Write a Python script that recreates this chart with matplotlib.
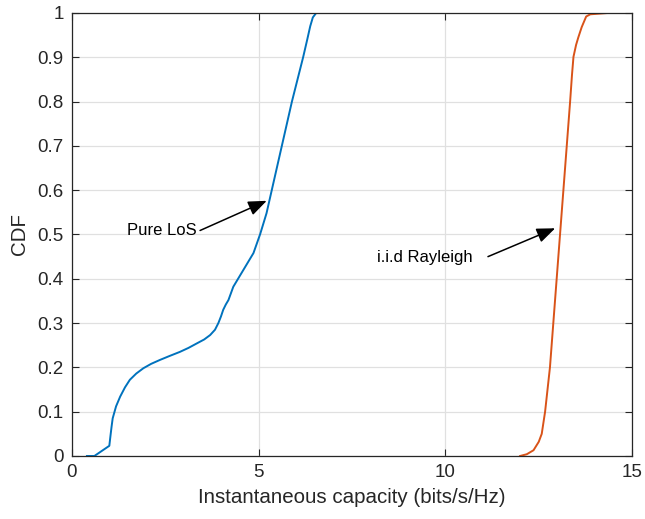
import numpy as np
import matplotlib.pyplot as plt

plt.rcParams['font.family'] = ['Liberation Sans', 'DejaVu Sans']

# empirical CDF of the capacity, pure line-of-sight channel
los_capacity = [0.40, 0.60, 1.00, 1.03, 1.06, 1.09, 1.18, 1.29, 1.42, 1.55, 1.72, 1.91,
                2.12, 2.36, 2.62, 2.89, 3.12, 3.34, 3.54, 3.70, 3.83, 3.92, 3.99,
                4.05, 4.12, 4.19, 4.32, 4.59, 4.86, 5.04, 5.21, 5.35, 5.62, 5.89,
                6.19, 6.30, 6.38, 6.45, 6.54]
los_cdf = [0.0, 0.0, 0.023, 0.045, 0.066, 0.085, 0.112, 0.134, 0.155, 0.172, 0.186, 0.198,
           0.208, 0.217, 0.226, 0.235, 0.244, 0.254, 0.263, 0.273, 0.285, 0.300, 0.315,
           0.330, 0.342, 0.352, 0.382, 0.420, 0.458, 0.501, 0.548, 0.600, 0.700, 0.800,
           0.900, 0.940, 0.970, 0.990, 1.0]

# empirical CDF of the capacity, i.i.d. Rayleigh channel
ray_capacity = [12.00, 12.18, 12.36, 12.50, 12.58, 12.67, 12.80, 12.89, 12.98, 13.07,
                13.16, 13.25, 13.34, 13.39, 13.43, 13.50, 13.56, 13.65, 13.77, 13.88, 14.35]
ray_cdf = [0.0, 0.004, 0.013, 0.032, 0.050, 0.100, 0.200, 0.300, 0.400, 0.500,
           0.600, 0.700, 0.800, 0.860, 0.901, 0.928, 0.945, 0.968, 0.992, 0.997, 1.0]

xticks = [0, 5, 10, 15]
yticks = [0, 0.1, 0.2, 0.3, 0.4, 0.5, 0.6, 0.7, 0.8, 0.9, 1]
ytick_labels = ['0', '0.1', '0.2', '0.3', '0.4', '0.5', '0.6', '0.7', '0.8', '0.9', '1']

blue = (0.0, 0.447, 0.741)
orange = (0.85, 0.325, 0.098)
axis_gray = (0.15, 0.15, 0.15)

fig = plt.figure(figsize=(6.45, 5.19), dpi=100)
ax = fig.add_axes([0.1116, 0.1214, 0.8684, 0.8536])

ax.plot(los_capacity, los_cdf, color=blue, lw=1.4)
ax.plot(ray_capacity, ray_cdf, color=orange, lw=1.4)

ax.set_xlim(0, 15)
ax.set_ylim(0, 1)
ax.set_xticks(xticks)
ax.set_yticks(yticks)
ax.set_yticklabels(ytick_labels)
ax.grid(True, color=(0.88, 0.88, 0.88), lw=0.9)
ax.set_axisbelow(True)

ax.tick_params(direction='in', top=True, right=True, length=5, width=0.8,
               colors=axis_gray, labelsize=13.5, pad=6)
for sp in ax.spines.values():
    sp.set_color(axis_gray)
    sp.set_linewidth(0.9)

ax.set_xlabel('Instantaneous capacity (bits/s/Hz)', fontsize=14.8, color=axis_gray, labelpad=5)
ax.set_ylabel('CDF', fontsize=14.8, color=axis_gray, labelpad=6)

arrow = dict(arrowstyle='-|>,head_length=0.7,head_width=0.28', color='k', lw=1.1,
             mutation_scale=16, shrinkA=0, shrinkB=0)

ax.text(1.47, 0.508, 'Pure LoS', fontsize=12, va='center', ha='left')
ax.annotate('', xy=(5.215, 0.576), xytext=(3.43, 0.509), arrowprops=arrow)

ax.text(8.17, 0.447, 'i.i.d Rayleigh', fontsize=12, va='center', ha='left')
ax.annotate('', xy=(12.94, 0.514), xytext=(11.14, 0.450), arrowprops=arrow)

fig.savefig('out.png', dpi=100)
